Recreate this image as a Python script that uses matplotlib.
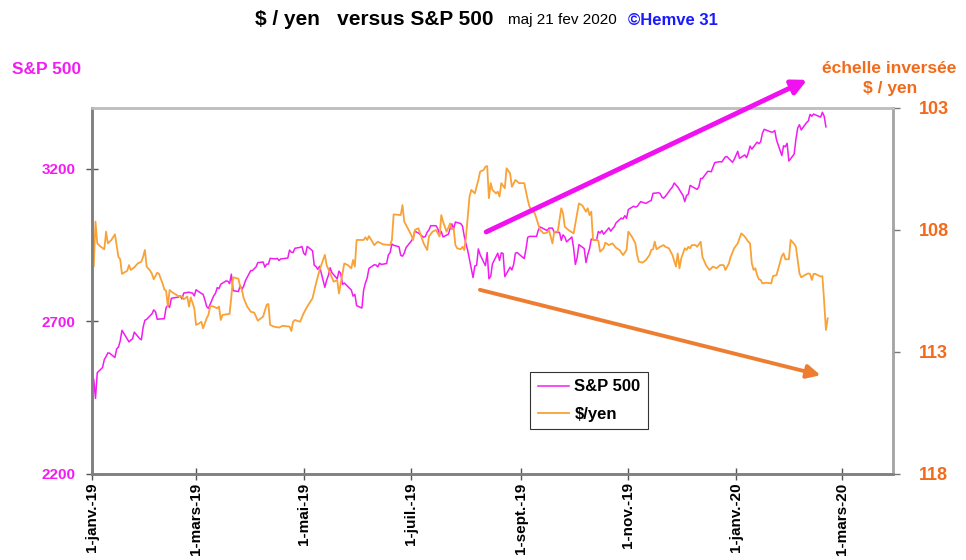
import numpy as np
import pandas as pd
import matplotlib
matplotlib.use("Agg")
import matplotlib.pyplot as plt

plt.rcParams['font.family'] = ['Liberation Sans', 'DejaVu Sans']

# ---------------- data ----------------
sp_dates = [
    '2019-01-02', '2019-01-03', '2019-01-04', '2019-01-07', '2019-01-08', '2019-01-09', '2019-01-10', '2019-01-11',
    '2019-01-14', '2019-01-15', '2019-01-16', '2019-01-17', '2019-01-18', '2019-01-22', '2019-01-23', '2019-01-24',
    '2019-01-25', '2019-01-28', '2019-01-29', '2019-01-30', '2019-01-31', '2019-02-01', '2019-02-04', '2019-02-05',
    '2019-02-06', '2019-02-07', '2019-02-08', '2019-02-11', '2019-02-12', '2019-02-13', '2019-02-14', '2019-02-15',
    '2019-02-19', '2019-02-20', '2019-02-21', '2019-02-22', '2019-02-25', '2019-02-26', '2019-02-27', '2019-02-28',
    '2019-03-01', '2019-03-04', '2019-03-05', '2019-03-06', '2019-03-07', '2019-03-08', '2019-03-11', '2019-03-12',
    '2019-03-13', '2019-03-14', '2019-03-15', '2019-03-18', '2019-03-19', '2019-03-20', '2019-03-21', '2019-03-22',
    '2019-03-25', '2019-03-26', '2019-03-27', '2019-03-28', '2019-03-29', '2019-04-01', '2019-04-02', '2019-04-03',
    '2019-04-04', '2019-04-05', '2019-04-08', '2019-04-09', '2019-04-10', '2019-04-11', '2019-04-12', '2019-04-15',
    '2019-04-16', '2019-04-17', '2019-04-18', '2019-04-22', '2019-04-23', '2019-04-24', '2019-04-25', '2019-04-26',
    '2019-04-29', '2019-04-30', '2019-05-01', '2019-05-02', '2019-05-03', '2019-05-06', '2019-05-07', '2019-05-08',
    '2019-05-09', '2019-05-10', '2019-05-13', '2019-05-14', '2019-05-15', '2019-05-16', '2019-05-17', '2019-05-20',
    '2019-05-21', '2019-05-22', '2019-05-23', '2019-05-24', '2019-05-28', '2019-05-29', '2019-05-30', '2019-05-31',
    '2019-06-03', '2019-06-04', '2019-06-05', '2019-06-06', '2019-06-07', '2019-06-10', '2019-06-11', '2019-06-12',
    '2019-06-13', '2019-06-14', '2019-06-17', '2019-06-18', '2019-06-19', '2019-06-20', '2019-06-21', '2019-06-24',
    '2019-06-25', '2019-06-26', '2019-06-27', '2019-06-28', '2019-07-01', '2019-07-02', '2019-07-03', '2019-07-05',
    '2019-07-08', '2019-07-09', '2019-07-10', '2019-07-11', '2019-07-12', '2019-07-15', '2019-07-16', '2019-07-17',
    '2019-07-18', '2019-07-19', '2019-07-22', '2019-07-23', '2019-07-24', '2019-07-25', '2019-07-26', '2019-07-29',
    '2019-07-30', '2019-07-31', '2019-08-01', '2019-08-02', '2019-08-05', '2019-08-06', '2019-08-07', '2019-08-08',
    '2019-08-09', '2019-08-12', '2019-08-13', '2019-08-14', '2019-08-15', '2019-08-16', '2019-08-19', '2019-08-20',
    '2019-08-21', '2019-08-22', '2019-08-23', '2019-08-26', '2019-08-27', '2019-08-28', '2019-08-29', '2019-08-30',
    '2019-09-03', '2019-09-04', '2019-09-05', '2019-09-06', '2019-09-09', '2019-09-10', '2019-09-11', '2019-09-12',
    '2019-09-13', '2019-09-16', '2019-09-17', '2019-09-18', '2019-09-19', '2019-09-20', '2019-09-23', '2019-09-24',
    '2019-09-25', '2019-09-26', '2019-09-27', '2019-09-30', '2019-10-01', '2019-10-02', '2019-10-03', '2019-10-04',
    '2019-10-07', '2019-10-08', '2019-10-09', '2019-10-10', '2019-10-11', '2019-10-14', '2019-10-15', '2019-10-16',
    '2019-10-17', '2019-10-18', '2019-10-21', '2019-10-22', '2019-10-23', '2019-10-24', '2019-10-25', '2019-10-28',
    '2019-10-29', '2019-10-30', '2019-10-31', '2019-11-01', '2019-11-04', '2019-11-05', '2019-11-06', '2019-11-07',
    '2019-11-08', '2019-11-11', '2019-11-12', '2019-11-13', '2019-11-14', '2019-11-15', '2019-11-18', '2019-11-19',
    '2019-11-20', '2019-11-21', '2019-11-22', '2019-11-25', '2019-11-26', '2019-11-27', '2019-11-29', '2019-12-02',
    '2019-12-03', '2019-12-04', '2019-12-05', '2019-12-06', '2019-12-09', '2019-12-10', '2019-12-11', '2019-12-12',
    '2019-12-13', '2019-12-16', '2019-12-17', '2019-12-18', '2019-12-19', '2019-12-20', '2019-12-23', '2019-12-24',
    '2019-12-26', '2019-12-27', '2019-12-30', '2019-12-31', '2020-01-02', '2020-01-03', '2020-01-06', '2020-01-07',
    '2020-01-08', '2020-01-09', '2020-01-10', '2020-01-13', '2020-01-14', '2020-01-15', '2020-01-16', '2020-01-17',
    '2020-01-21', '2020-01-22', '2020-01-23', '2020-01-24', '2020-01-27', '2020-01-28', '2020-01-29', '2020-01-30',
    '2020-01-31', '2020-02-03', '2020-02-04', '2020-02-05', '2020-02-06', '2020-02-07', '2020-02-10', '2020-02-11',
    '2020-02-12', '2020-02-13', '2020-02-14', '2020-02-18', '2020-02-19', '2020-02-20', '2020-02-21',
]
sp_values = [
    2510, 2448, 2532, 2549, 2575, 2585, 2597, 2596, 2582, 2610, 2616, 2636, 2671, 2633, 2639, 2643,
    2665, 2644, 2640, 2681, 2704, 2707, 2725, 2738, 2732, 2707, 2708, 2709, 2745, 2753, 2746, 2776,
    2780, 2784, 2774, 2793, 2796, 2794, 2793, 2784, 2804, 2792, 2789, 2771, 2749, 2743, 2784, 2792,
    2811, 2808, 2822, 2833, 2832, 2824, 2855, 2801, 2798, 2818, 2805, 2816, 2834, 2867, 2867, 2873,
    2879, 2893, 2895, 2878, 2888, 2888, 2907, 2905, 2907, 2900, 2905, 2908, 2934, 2927, 2926, 2940,
    2943, 2946, 2924, 2918, 2946, 2932, 2884, 2880, 2871, 2881, 2812, 2835, 2851, 2876, 2860, 2840,
    2865, 2857, 2822, 2826, 2803, 2783, 2789, 2752, 2744, 2804, 2826, 2843, 2874, 2886, 2885, 2879,
    2891, 2887, 2890, 2918, 2926, 2954, 2950, 2945, 2917, 2914, 2924, 2942, 2964, 2973, 2996, 2990,
    2976, 2979, 2993, 3000, 3014, 3014, 3004, 2985, 2995, 2977, 2986, 3005, 3020, 3004, 3026, 3021,
    3013, 2980, 2954, 2932, 2844, 2882, 2884, 2938, 2919, 2883, 2926, 2840, 2848, 2889, 2924, 2900,
    2925, 2923, 2847, 2878, 2869, 2887, 2924, 2926, 2906, 2938, 2976, 2979, 2979, 2979, 3000, 3010,
    3007, 2998, 3006, 3006, 3006, 2992, 2992, 2966, 2984, 2977, 2961, 2977, 2940, 2887, 2910, 2952,
    2939, 2893, 2919, 2938, 2970, 2966, 2995, 2990, 2998, 2986, 3007, 2996, 3004, 3010, 3023, 3039,
    3036, 3047, 3038, 3067, 3078, 3075, 3077, 3085, 3093, 3087, 3091, 3094, 3097, 3120, 3122, 3120,
    3108, 3104, 3110, 3134, 3141, 3154, 3141, 3113, 3093, 3113, 3117, 3146, 3136, 3133, 3142, 3169,
    3169, 3192, 3192, 3191, 3206, 3221, 3224, 3223, 3240, 3240, 3222, 3231, 3258, 3235, 3246, 3237,
    3253, 3275, 3265, 3288, 3283, 3289, 3317, 3330, 3321, 3321, 3326, 3295, 3244, 3276, 3273, 3284,
    3226, 3249, 3298, 3334, 3345, 3328, 3352, 3357, 3379, 3373, 3380, 3370, 3386, 3373, 3338,
]

# $/yen, days counted from 1 Jan 2019
yen_day = [
    0, 1, 2, 3, 5, 7, 8, 9, 11, 13, 15, 16, 17, 19, 20, 21, 22, 24, 26, 28, 29, 30, 31, 33, 34, 35,
    37, 38, 40, 41, 42, 43, 44, 45, 47, 49, 51, 52, 54, 55, 56, 58, 59, 61, 62, 63, 65, 66, 67, 68,
    69, 71, 72, 73, 74, 78, 79, 80, 83, 84, 85, 86, 88, 90, 92, 94, 97, 99, 100, 101, 103, 106, 108,
    112, 113, 114, 115, 118, 120, 122, 125, 127, 129, 132, 133, 135, 137, 139, 140, 141, 143, 145,
    147, 148, 149, 150, 154, 155, 156, 157, 160, 162, 165, 169, 170, 171, 175, 176, 177, 179, 181,
    182, 183, 185, 186, 188, 190, 191, 193, 195, 197, 198, 199, 201, 203, 204, 205, 206, 207, 209,
    210, 211, 212, 214, 215, 217, 219, 220, 222, 223, 224, 225, 226, 227, 229, 230, 231, 232, 234,
    235, 237, 238, 240, 242, 245, 247, 248, 251, 254, 255, 256, 258, 259, 261, 262, 264, 266, 267,
    268, 270, 273, 275, 276, 278, 280, 281, 282, 283, 284, 286, 287, 288, 290, 291, 293, 295, 297,
    299, 301, 303, 304, 306, 308, 309, 310, 312, 314, 316, 317, 318, 319, 320, 322, 324, 325, 327,
    329, 331, 332, 333, 334, 336, 337, 338, 339, 340, 342, 343, 345, 346, 348, 350, 352, 354, 356,
    358, 359, 361, 362, 364, 366, 368, 370, 372, 373, 374, 375, 376, 377, 378, 379, 380, 382, 385,
    386, 388, 390, 391, 392, 393, 395, 396, 398, 399, 401, 402, 404, 406, 407, 408, 409, 410, 413,
    414, 415, 416, 417,
]
yen_values = [
    109.61, 109.50, 107.66, 108.55, 108.69, 108.79, 108.07, 108.55, 108.41, 108.18, 109.10, 109.20,
    109.80, 109.71, 109.67, 109.44, 109.64, 109.53, 109.37, 109.30, 109.10, 108.82, 109.50, 109.67,
    109.80, 110.02, 109.75, 109.80, 110.19, 110.43, 110.49, 111.12, 110.46, 110.53, 110.62, 110.71,
    110.73, 110.84, 110.73, 111.14, 110.76, 111.21, 111.89, 111.82, 111.76, 112.03, 111.62, 111.48,
    111.14, 111.12, 111.14, 111.21, 111.14, 111.69, 111.48, 111.44, 110.73, 109.94, 110.00, 110.32,
    110.46, 110.80, 111.14, 111.35, 111.39, 111.72, 111.55, 111.07, 111.03, 111.89, 111.96, 112.00,
    111.93, 111.96, 112.14, 111.76, 111.69, 111.76, 111.41, 111.14, 110.80, 110.19, 109.64, 109.02,
    109.44, 109.78, 110.12, 110.05, 110.60, 110.19, 109.37, 109.44, 109.57, 109.23, 109.50, 108.41,
    108.41, 108.30, 108.41, 108.25, 108.62, 108.48, 108.59, 108.62, 108.41, 107.36, 107.39, 106.98,
    107.66, 107.93, 108.21, 108.41, 108.00, 107.93, 108.14, 108.55, 108.82, 108.27, 108.07, 108.00,
    108.27, 107.39, 107.66, 108.07, 107.73, 107.97, 107.93, 108.62, 108.75, 108.79, 108.69, 108.82,
    108.27, 106.63, 106.36, 106.50, 105.95, 105.61, 105.54, 105.41, 105.38, 106.70, 106.08, 106.36,
    106.50, 106.43, 106.63, 106.08, 106.29, 105.47, 105.68, 106.23, 105.95, 106.08, 106.08, 106.77,
    107.05, 107.32, 108.00, 108.07, 108.14, 108.11, 108.00, 108.55, 108.07, 108.07, 107.11, 107.32,
    107.87, 108.00, 108.14, 107.32, 106.91, 107.00, 107.25, 107.11, 107.39, 107.25, 108.41, 108.41,
    108.44, 108.89, 108.75, 108.52, 108.62, 108.55, 108.73, 108.82, 109.03, 108.82, 108.07, 108.27,
    108.55, 109.03, 109.30, 109.34, 109.23, 109.03, 108.82, 108.79, 108.48, 108.79, 108.69, 108.62,
    108.69, 108.75, 109.03, 109.50, 108.96, 109.57, 109.16, 108.75, 108.82, 108.69, 108.75, 108.62,
    108.62, 108.69, 108.48, 109.10, 109.44, 109.64, 109.50, 109.57, 109.44, 109.44, 109.64, 109.37,
    109.10, 108.75, 108.55, 108.14, 108.27, 108.48, 108.55, 109.37, 109.64, 109.57, 109.85, 110.02,
    110.05, 110.19, 110.16, 110.19, 109.89, 109.85, 109.34, 109.07, 108.96, 109.20, 109.20, 108.41,
    108.57, 108.69, 109.78, 109.94, 109.85, 109.78, 109.80, 110.05, 109.80, 109.80, 109.91, 109.89,
    110.94, 112.10, 111.62,
]

tick_dates = ['2019-01-01', '2019-03-01', '2019-05-01', '2019-07-01', '2019-09-01',
              '2019-11-01', '2020-01-01', '2020-03-01']
tick_labels = ['1-janv.-19', '1-mars-19', '1-mai-19', '1-juil.-19', '1-sept.-19',
               '1-nov.-19', '1-janv.-20', '1-mars-20']
sp_ticks = [2200, 2700, 3200]
yen_ticks = [103, 108, 113, 118]

MAGENTA = '#F21CF2'
ORANGE_LINE = '#F9A237'
ORANGE_TXT = '#F26A1B'

sp_x = pd.to_datetime(sp_dates)
yen_x = pd.Timestamp('2019-01-01') + pd.to_timedelta(yen_day, unit='D')

# ---------------- plot ----------------
fig = plt.figure(figsize=(9.66, 5.6), dpi=100)
ax = fig.add_axes([0.0952, 0.1536, 0.8292, 0.6536])
ax2 = ax.twinx()

l1, = ax.plot(sp_x, sp_values, color=MAGENTA, lw=1.1, label='S&P 500')
l2, = ax2.plot(yen_x, yen_values, color=ORANGE_LINE, lw=1.3, label='$/yen')

ax.set_xlim(pd.Timestamp('2019-01-01'), pd.Timestamp('2020-03-30'))
ax.set_ylim(2200, 3400)
ax2.set_ylim(118, 103)

ax.set_xticks(pd.to_datetime(tick_dates))
ax.set_xticklabels(tick_labels, rotation=90, fontsize=11, fontweight='bold')
ax.set_yticks(sp_ticks)
ax.set_yticklabels([str(v) for v in sp_ticks], color=MAGENTA, fontsize=11, fontweight='bold')
ax2.set_yticks(yen_ticks)
ax2.set_yticklabels([str(v) for v in yen_ticks], color=ORANGE_TXT, fontsize=13, fontweight='bold')

ax.tick_params(axis='x', direction='inout', length=8, width=1, color='#555555', pad=2)
ax.tick_params(axis='y', direction='inout', length=8, width=1, color='#555555', pad=8)
ax2.tick_params(axis='y', direction='out', length=5, width=1, color='#777777', pad=14)

for a in (ax, ax2):
    a.spines['left'].set_color('#7f7f7f')
    a.spines['left'].set_linewidth(1.8)
    a.spines['bottom'].set_color('#7f7f7f')
    a.spines['bottom'].set_linewidth(1.8)
    a.spines['top'].set_color('#bfbfbf')
    a.spines['top'].set_linewidth(1.8)
    a.spines['right'].set_color('#a6a6a6')
    a.spines['right'].set_linewidth(1.8)

leg = ax2.legend([l1, l2], ['S&P 500', '$/yen'], loc='upper left', bbox_to_anchor=(0.547, 0.279),
                 prop={'weight': 'bold', 'size': 12}, frameon=True, fancybox=False,
                 handlelength=1.9, borderpad=0.45, labelspacing=0.75, handletextpad=0.3,
                 borderaxespad=0.0)
leg.get_frame().set_edgecolor('black')
leg.get_frame().set_linewidth(0.8)

# trend arrows
ax2.annotate('', xy=(0.896, 1.080), xytext=(0.489, 0.658), xycoords='axes fraction',
             textcoords='axes fraction', annotation_clip=False,
             arrowprops=dict(arrowstyle='-|>', color='#F010F0', lw=3.5, mutation_scale=22))
ax2.annotate('', xy=(0.913, 0.268), xytext=(0.481, 0.505), xycoords='axes fraction',
             textcoords='axes fraction', annotation_clip=False,
             arrowprops=dict(arrowstyle='-|>', color='#ED7D31', lw=2.8, mutation_scale=20))

# titles and side labels
fig.text(0.264, 0.966, '$ / yen   versus S&P 500', fontsize=15, fontweight='bold', va='center', ha='left')
fig.text(0.526, 0.964, 'maj 21 fev 2020', fontsize=11, va='center', ha='left')
fig.text(0.650, 0.964, '\u00a9Hemve 31', fontsize=12, fontweight='bold', color='#1a1aff', va='center', ha='left')
fig.text(0.012, 0.875, 'S&P 500', fontsize=12.5, fontweight='bold', color=MAGENTA, va='center', ha='left')
fig.text(0.921, 0.878, 'échelle inversée', fontsize=12.5, fontweight='bold', color=ORANGE_TXT, va='center', ha='center')
fig.text(0.921, 0.842, '$ / yen', fontsize=12.5, fontweight='bold', color=ORANGE_TXT, va='center', ha='center')

fig.savefig('out.png', dpi=100)
